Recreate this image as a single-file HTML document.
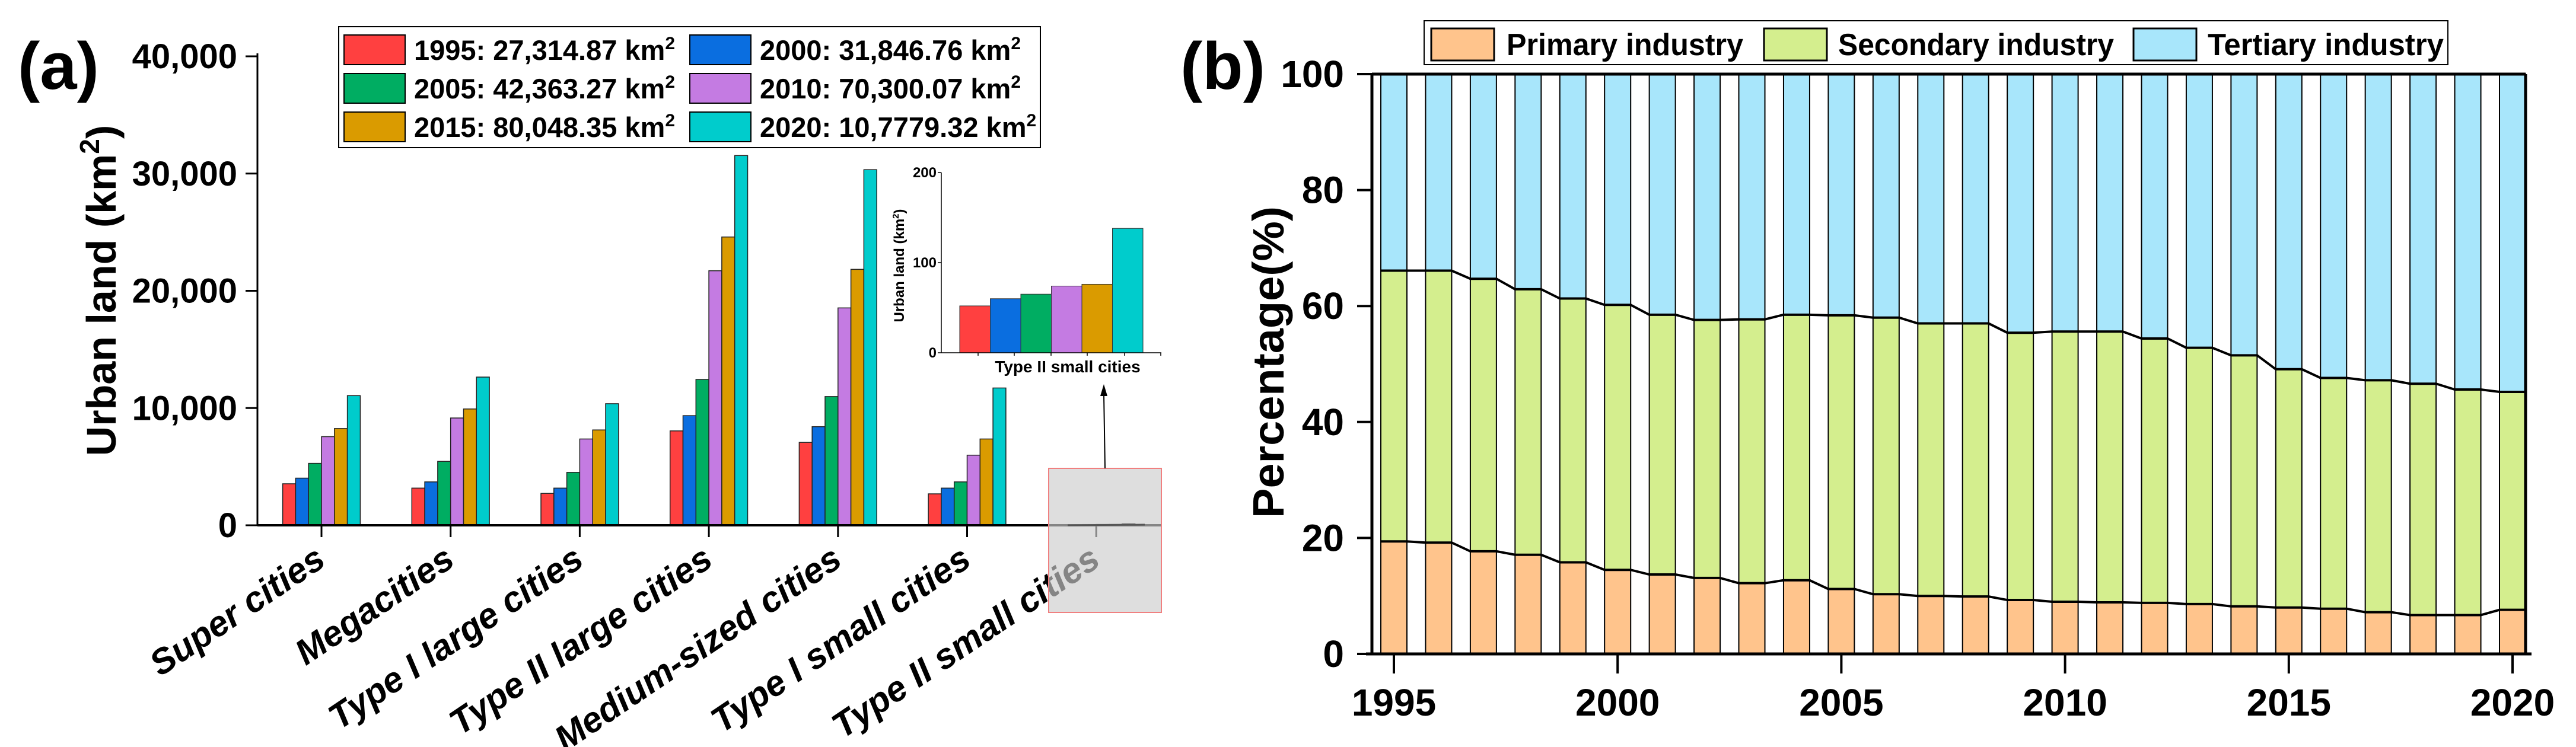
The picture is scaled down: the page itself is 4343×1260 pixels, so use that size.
<!DOCTYPE html>
<html><head><meta charset="utf-8"><style>
html,body{margin:0;padding:0;background:#fff;}
svg{display:block;}
text{font-family:"Liberation Sans",sans-serif;font-weight:bold;}
</style></head><body>
<svg id="fig" xmlns="http://www.w3.org/2000/svg" width="4343" height="1260" viewBox="0 0 4343 1260">
<text x="30" y="150" font-size="112">(a)</text>
<text x="1990" y="150" font-size="112">(b)</text>
<g id="pa"></g>
<g id="pb"></g>
</svg>
<script>
const NS="http://www.w3.org/2000/svg";
// ---------- Panel (a) data ----------
const categoriesA=["Super cities","Megacities","Type I large cities","Type II large cities","Medium-sized cities","Type I small cities","Type II small cities"];
const yearsA=["1995","2000","2005","2010","2015","2020"];
const legendA=["1995: 27,314.87 km","2000: 31,846.76 km","2005: 42,363.27 km","2010: 70,300.07 km","2015: 80,048.35 km","2020: 10,7779.32 km"];
const v1995=[3540,3170,2720,8050,7070,2680,52];
const v2000=[4020,3700,3170,9350,8410,3170,60];
const v2005=[5280,5450,4510,12440,10980,3700,65];
const v2010=[7560,9150,7360,21710,18540,5980,74];
const v2015=[8250,9920,8130,24590,21830,7360,76];
const v2020=[11060,12640,10370,31540,30330,11710,138];
const ticksA=[0,10000,20000,30000,40000];
const tickLabelsA=["0","10,000","20,000","30,000","40,000"];
const insetValues=[52,60,65,74,76,138];
const insetTicks=[0,100,200];
// ---------- Panel (b) data ----------
const yearsB=[1995,1996,1997,1998,1999,2000,2001,2002,2003,2004,2005,2006,2007,2008,2009,2010,2011,2012,2013,2014,2015,2016,2017,2018,2019,2020];
const primary=[19.4,19.2,17.7,17.1,15.8,14.5,13.7,13.1,12.2,12.7,11.2,10.3,10.0,9.9,9.3,9.0,8.9,8.8,8.6,8.2,8.0,7.8,7.2,6.7,6.7,7.6];
const secondary=[46.7,46.9,47.0,45.8,45.5,45.7,44.8,44.5,45.5,45.8,47.2,47.7,47.0,47.1,46.1,46.6,46.7,45.6,44.2,43.3,41.1,39.8,40.0,39.9,38.9,37.6];
const ticksB=[0,20,40,60,80,100];
const xTicksB=[1995,2000,2005,2010,2015,2020];
const seriesB=["Primary industry","Secondary industry","Tertiary industry"];

const colA=["#ff4040","#0a6ee0","#00ad62","#c47be2","#da9b00","#00cccc"];
const colB=["#ffc48c","#d4ee8e","#a8e6fb"];
function el(p,tag,at,txt){const e=document.createElementNS(NS,tag);for(const k in at)e.setAttribute(k,at[k]);if(txt!==undefined)e.textContent=txt;p.appendChild(e);return e;}

// ===== Panel a =====
const pa=document.getElementById('pa');
const aX0=434,aX1=1958,aY0=886,aYt=95;
const ya=v=>aY0-(v/40000)*(aY0-aYt);
const groupX=i=>542+i*217.7;
const bw=21.8;
const seriesA=[v1995,v2000,v2005,v2010,v2015,v2020];
seriesA.forEach((s,si)=>{s.forEach((v,ci)=>{
  const x=groupX(ci)-3*bw+si*bw;
  const r=el(pa,'rect',{x:x,y:ya(v),width:bw,height:aY0-ya(v),fill:colA[si],stroke:'#222','stroke-width':1.5});
  
  
});});
el(pa,'line',{x1:aX0,y1:aYt-5,x2:aX0,y2:aY0,stroke:'#000','stroke-width':3});
el(pa,'line',{x1:aX0,y1:aY0,x2:aX1,y2:aY0,stroke:'#000','stroke-width':4});
ticksA.forEach((t,i)=>{
  el(pa,'line',{x1:aX0-20,y1:ya(t),x2:aX0,y2:ya(t),stroke:'#000','stroke-width':3});
  const tl=el(pa,'text',{x:400,y:ya(t)+20,'text-anchor':'end','font-size':58},tickLabelsA[i]);
  
});
categoriesA.forEach((c,i)=>{
  const gx=groupX(i);
  el(pa,'line',{x1:gx,y1:aY0,x2:gx,y2:aY0+20,stroke:'#000','stroke-width':3});
  const t=el(pa,'text',{x:0,y:0,'text-anchor':'end','font-size':60,'font-style':'italic',transform:`translate(${gx+10},${aY0+66}) rotate(-34)`},c);
  
});
// gray box (semi-transparent overlay)
let gb=el(pa,'rect',{x:1768,y:790,width:190,height:243,fill:'rgba(205,205,205,0.65)',stroke:'#f08080','stroke-width':2});

el(pa,'line',{x1:1800,y1:886,x2:1930,y2:885,stroke:'#555','stroke-width':3});
let yt=el(pa,'text',{x:0,y:0,'text-anchor':'middle','font-size':70,transform:'translate(195,490) rotate(-90)'});

yt.innerHTML='Urban land (km<tspan dy="-28" font-size="46">2</tspan><tspan dy="28">)</tspan>';
// legend a
let lg=el(pa,'rect',{x:571,y:45,width:1183,height:204,fill:'#fff',stroke:'#000','stroke-width':2});

legendA.forEach((L,i)=>{
  const col=i%2,row=Math.floor(i/2);
  const sx=col?1163:580,ty=84+row*65;
  el(pa,'rect',{x:sx,y:ty-25,width:103,height:50,fill:colA[i],stroke:'#000','stroke-width':2});
  const t=el(pa,'text',{x:sx+118,y:ty+17,'font-size':47});
  
  t.innerHTML=L+'<tspan dy="-18" font-size="30">2</tspan>';
});
// inset
const iX0=1587,iX1=1958,iY0=595,iYt=291;
const yi=v=>iY0-(v/200)*(iY0-iYt);
const ibw=(1927-1618)/6;
insetValues.forEach((v,i)=>{
  const r=el(pa,'rect',{x:1618+i*ibw,y:yi(v),width:ibw,height:iY0-yi(v),fill:colA[i],stroke:'#333','stroke-width':1});
  
});
el(pa,'line',{x1:iX0,y1:iYt,x2:iX0,y2:iY0,stroke:'#000','stroke-width':1.5});
el(pa,'line',{x1:iX0,y1:iY0,x2:iX1,y2:iY0,stroke:'#000','stroke-width':1.5});
insetTicks.forEach(t=>{
  el(pa,'line',{x1:iX0-6,y1:yi(t),x2:iX0,y2:yi(t),stroke:'#000','stroke-width':1.5});
  el(pa,'text',{x:1579,y:yi(t)+8,'text-anchor':'end','font-size':24},String(t));
});
[1649,1710,1772,1833,1896,1957].forEach(x=>el(pa,'line',{x1:x,y1:iY0,x2:x,y2:iY0+5,stroke:'#000','stroke-width':1.5}));
el(pa,'text',{x:1800,y:628,'text-anchor':'middle','font-size':28},'Type II small cities');
let it=el(pa,'text',{x:0,y:0,'text-anchor':'middle','font-size':24,transform:'translate(1524,448) rotate(-90)'});
it.innerHTML='Urban land (km<tspan dy="-9" font-size="15">2</tspan><tspan dy="9">)</tspan>';
el(pa,'line',{x1:1863,y1:790,x2:1861,y2:665,stroke:'#000','stroke-width':2});
el(pa,'polygon',{points:'1855,668 1867,668 1861,648',fill:'#000'});

// ===== Panel b =====
const pb=document.getElementById('pb');
const bX0=2313,bX1=4258,bY0=1103,bYt=125;
const yb=v=>bY0-(v/100)*(bY0-bYt);
const xb=y=>2350+(y-1995)*75.44;
const bbw=44;
const topLine1=[],topLine2=[];
yearsB.forEach((yr,i)=>{
  const x=xb(yr)-bbw/2;
  const p=primary[i],s=p+secondary[i];
  const r3=el(pb,'rect',{x:x,y:yb(100),width:bbw,height:yb(s)-yb(100),fill:colB[2],stroke:'#000','stroke-width':2});
  
  const r2=el(pb,'rect',{x:x,y:yb(s),width:bbw,height:yb(p)-yb(s),fill:colB[1],stroke:'#000','stroke-width':2});
  
  const r1=el(pb,'rect',{x:x,y:yb(p),width:bbw,height:bY0-yb(p),fill:colB[0],stroke:'#000','stroke-width':2});
  
  topLine1.push(x+','+yb(p),(x+bbw)+','+yb(p));
  topLine2.push(x+','+yb(s),(x+bbw)+','+yb(s));
});
el(pb,'polyline',{points:topLine1.join(' '),fill:'none',stroke:'#000','stroke-width':4});
el(pb,'polyline',{points:topLine2.join(' '),fill:'none',stroke:'#000','stroke-width':4});
el(pb,'line',{x1:bX0,y1:bYt,x2:bX1,y2:bYt,stroke:'#000','stroke-width':5});
el(pb,'line',{x1:bX1,y1:bYt,x2:bX1,y2:bY0,stroke:'#000','stroke-width':5});
el(pb,'line',{x1:bX0,y1:bYt,x2:bX0,y2:bY0,stroke:'#000','stroke-width':5});
el(pb,'line',{x1:bX0-10,y1:bY0,x2:bX1+10,y2:bY0,stroke:'#000','stroke-width':5});
ticksB.forEach(t=>{
  el(pb,'line',{x1:bX0-25,y1:yb(t),x2:bX0,y2:yb(t),stroke:'#000','stroke-width':4});
  const tl=el(pb,'text',{x:2266,y:yb(t)+22,'text-anchor':'end','font-size':64},String(t));
  
});
xTicksB.forEach(t=>{
  el(pb,'line',{x1:xb(t),y1:bY0,x2:xb(t),y2:bY0+33,stroke:'#000','stroke-width':4});
  const tl=el(pb,'text',{x:xb(t),y:1207,'text-anchor':'middle','font-size':64},String(t));
  
});
let yb2=el(pb,'text',{x:0,y:0,'text-anchor':'middle','font-size':74,textLength:526,lengthAdjust:'spacingAndGlyphs',transform:'translate(2164,611) rotate(-90)'},'Percentage(%)');

let lb=el(pb,'rect',{x:2401,y:35,width:1726,height:74,fill:'#fff',stroke:'#000','stroke-width':2});

const legLens=[399,465,398];
[[2413,2540],[2974,3099],[3597,3722]].forEach((p,i)=>{
  el(pb,'rect',{x:p[0],y:48,width:106,height:54,fill:colB[i],stroke:'#000','stroke-width':3});
  const t=el(pb,'text',{x:p[1],y:93,'font-size':52,textLength:legLens[i],lengthAdjust:'spacingAndGlyphs'},seriesB[i]);
  
});
</script>
</body></html>
